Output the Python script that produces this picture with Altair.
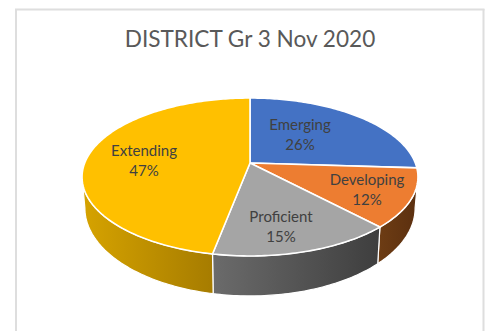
import math
import altair as alt

# Slice values, clockwise from twelve o'clock
categories = ["Emerging", "Developing", "Proficient", "Extending"]
shares = [26, 12, 15, 47]
top_colors = ["#4472C4", "#ED7D31", "#A5A5A5", "#FFC000"]
side_stops = {
    "Developing": ("#6E3D14", "#5B2F0F"),
    "Proficient": ("#6B6B6B", "#3E3E3E"),
    "Extending": ("#D6A300", "#A67C00"),
}
label_x = [300, 367, 281, 144]
label_y = [125, 180, 217, 151]

# Perspective of the tilted disc: top face and the lower edge of the rim
PERSPECTIVE = 0.177
TOP_PLANE = dict(cx=250.0, cy=163.0, a=165.3, b=76.5)
BOTTOM_PLANE = dict(cx=250.0, cy=192.4, a=162.5, b=85.2)
TANGENT = math.degrees(math.acos(-PERSPECTIVE))
PIXELS = dict(type="identity", scale=1, translate=[0, 0])


def project(plane, angle, radius=1.0):
    t = math.radians(angle)
    u, v = radius * math.sin(t), radius * math.cos(t)
    w = 1 + PERSPECTIVE * v
    return [plane["cx"] + plane["a"] * u / w, plane["cy"] - plane["b"] * v / w]


def sweep(start, end, step=1.0):
    n = max(2, int(abs(end - start) / step) + 1)
    return [start + (end - start) * i / (n - 1) for i in range(n)]


def feature(name, ring):
    return {
        "type": "Feature",
        "properties": {"category": name},
        "geometry": {"type": "Polygon", "coordinates": [ring + [ring[0]]]},
    }


spans = {}
running = 0.0
for name, share in zip(categories, shares):
    spans[name] = (running * 3.6, (running + share) * 3.6)
    running += share

top_features = []
for name in categories:
    a0, a1 = spans[name]
    ring = [project(TOP_PLANE, a0, 0.0)] + [project(TOP_PLANE, t) for t in sweep(a0, a1)]
    top_features.append(feature(name, ring))

# Visible rim pieces, each shaded left to right
rim_layers = []
for name, (left, right) in side_stops.items():
    a0, a1 = spans[name]
    a0, a1 = max(a0, TANGENT), min(a1, 360 - TANGENT)
    angles = sweep(a0, a1)
    ring = [project(TOP_PLANE, t) for t in angles] + [
        project(BOTTOM_PLANE, t) for t in reversed(angles)
    ]
    shade = alt.LinearGradient(
        gradient="linear",
        x1=0, x2=1, y1=0, y2=0,
        stops=[
            alt.GradientStop(color=left, offset=0),
            alt.GradientStop(color=right, offset=1),
        ],
    )
    rim_layers.append(
        alt.Chart(alt.Data(values=[feature(name, ring)]))
        .mark_geoshape(fill=shade, stroke="white", strokeWidth=1.2)
        .project(**PIXELS)
    )

top_layer = (
    alt.Chart(alt.Data(values=top_features))
    .mark_geoshape(stroke="white", strokeWidth=1.6)
    .encode(
        color=alt.Color(
            "properties.category:N",
            scale=alt.Scale(domain=categories, range=top_colors),
            legend=None,
        )
    )
    .project(**PIXELS)
)

# Card outline around the chart
frame_color = "#DEDEDE"
blank = alt.Data(values=[{}])
frame = [
    alt.Chart(blank).mark_rule(color=frame_color, strokeWidth=2).encode(
        x=alt.value(16), x2=alt.value(16), y=alt.value(9), y2=alt.value(331)
    ),
    alt.Chart(blank).mark_rule(color=frame_color, strokeWidth=2).encode(
        x=alt.value(483.5), x2=alt.value(483.5), y=alt.value(9), y2=alt.value(331)
    ),
    alt.Chart(blank).mark_rule(color=frame_color, strokeWidth=2).encode(
        x=alt.value(15), x2=alt.value(484.5), y=alt.value(9.5)
    ),
]

label_layers = [
    alt.Chart(blank)
    .mark_text(
        text=f"{name}\n{share}%",
        lineBreak="\n",
        lineHeight=20,
        font="Lato",
        fontSize=15,
        color="#404040",
        align="center",
        baseline="middle",
    )
    .encode(x=alt.value(x), y=alt.value(y))
    for name, share, x, y in zip(categories, shares, label_x, label_y)
]

title = (
    alt.Chart(blank)
    .mark_text(
        text="DISTRICT Gr 3 Nov 2020",
        font="Lato",
        fontSize=22.6,
        color="#595959",
        align="center",
        baseline="middle",
    )
    .encode(x=alt.value(250), y=alt.value(39.5))
)

chart = (
    alt.layer(*frame, *rim_layers, top_layer, *label_layers, title)
    .properties(
        width=491,
        height=331,
        padding=0,
        autosize=alt.AutoSizeParams(type="none"),
        background="white",
    )
    .configure_view(stroke=None)
)

chart.save("out.html", embed_options={"renderer": "svg", "actions": False})
